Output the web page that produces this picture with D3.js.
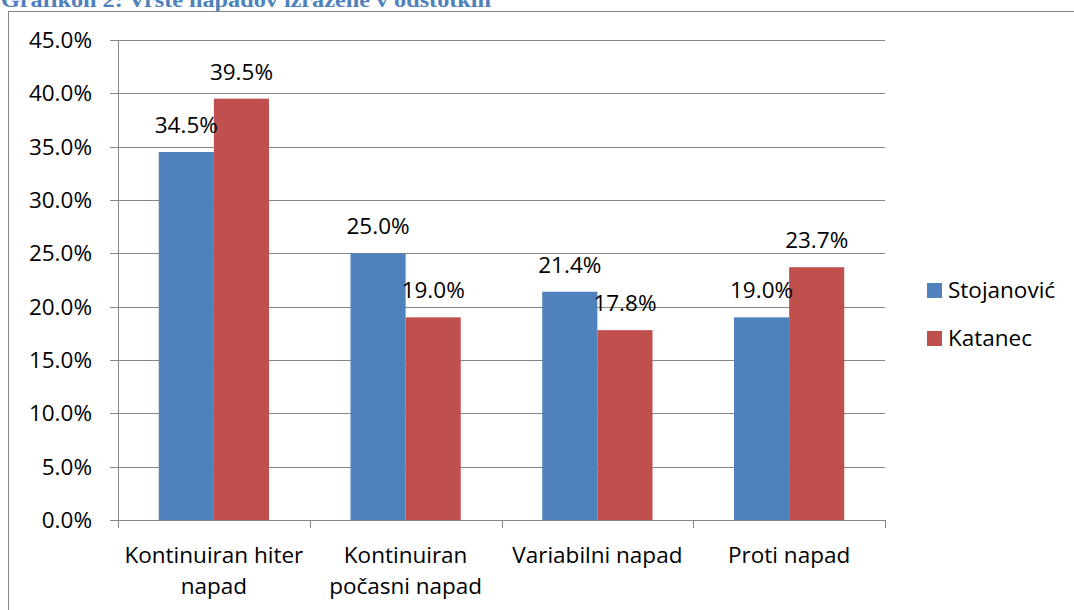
<!DOCTYPE html>
<html>
<head>
<meta charset="utf-8">
<script src="https://cdn.jsdelivr.net/npm/d3@7"></script>
<style>
  html, body { margin: 0; padding: 0; background: #fff; }
  svg { display: block; }
</style>
</head>
<body>
<svg id="chart" width="1074" height="610"></svg>
<script>
const title = "Grafikon 2: Vrste napadov izražene v odstotkih";
const categories = [["Kontinuiran hiter", "napad"], ["Kontinuiran", "počasni napad"], ["Variabilni napad"], ["Proti napad"]];
const seriesNames = ["Stojanović", "Katanec"];
const stojanovic = [34.5, 25.0, 21.4, 19.0];
const katanec = [39.5, 19.0, 17.8, 23.7];
const yTicks = [0, 5, 10, 15, 20, 25, 30, 35, 40, 45];
const colors = ["#4F81BD", "#C0504D"];

(function () {
const svg = d3.select("#chart");
const font = "'Open Sans', sans-serif";
const fs = 22.5;
const gridColor = "#868686";

// title (partially cut at top)
svg.append("text")
  .attr("x", 1).attr("y", 7)
  .attr("font-family", "'Liberation Serif', serif")
  .attr("font-weight", "bold")
  .attr("font-size", 20)
  .attr("fill", "#4F81BD")
  .attr("textLength", 490)
  .attr("lengthAdjust", "spacingAndGlyphs")
  .text(title);

// outer box
svg.append("rect")
  .attr("x", 8.5).attr("y", 11.5)
  .attr("width", 1100).attr("height", 700)
  .attr("fill", "none").attr("stroke", gridColor).attr("stroke-width", 1);

const pLeft = 118, pRight = 885, pTop = 40, pBottom = 520;
const y = d3.scaleLinear().domain([0, 45]).range([pBottom, pTop]);
const x = d3.scaleBand().domain(d3.range(categories.length)).range([pLeft, pRight]).padding(0);
const bw = x.bandwidth();
const outer = bw * 0.2125;
const barW = (bw - 2 * outer) / 2;

// gridlines + y ticks
const g = svg.append("g");
yTicks.forEach(t => {
  g.append("line")
    .attr("x1", pLeft - 8).attr("x2", pRight)
    .attr("y1", Math.round(y(t)) + 0.5).attr("y2", Math.round(y(t)) + 0.5)
    .attr("stroke", gridColor).attr("stroke-width", 1);
  g.append("text")
    .attr("x", 92).attr("y", y(t))
    .attr("dy", "0.35em")
    .attr("text-anchor", "end")
    .attr("font-family", font).attr("font-size", fs)
    .attr("fill", "#000")
    .text(t.toFixed(1) + "%");
});

// y axis line
g.append("line")
  .attr("x1", pLeft + 0.5).attr("x2", pLeft + 0.5)
  .attr("y1", pTop).attr("y2", pBottom + 8)
  .attr("stroke", gridColor);

// x ticks at band boundaries
d3.range(categories.length + 1).forEach(i => {
  const xx = Math.round(pLeft + i * bw) + 0.5;
  g.append("line")
    .attr("x1", xx).attr("x2", xx)
    .attr("y1", pBottom).attr("y2", pBottom + 8)
    .attr("stroke", gridColor);
});

// bars
const series = [stojanovic, katanec];
series.forEach((vals, si) => {
  vals.forEach((v, ci) => {
    const bx = x(ci) + outer + si * barW;
    svg.append("rect")
      .attr("x", bx).attr("y", y(v))
      .attr("width", barW).attr("height", y(0) - y(v))
      .attr("fill", colors[si]);
  });
});
// labels
series.forEach((vals, si) => {
  vals.forEach((v, ci) => {
    const bx = x(ci) + outer + si * barW;
    svg.append("text")
      .attr("x", bx + barW / 2).attr("y", y(v) - 19)
      .attr("text-anchor", "middle")
      .attr("font-family", font).attr("font-size", fs)
      .attr("fill", "#000")
      .text(v.toFixed(1) + "%");
  });
});

// x axis baseline on top
svg.append("line")
  .attr("x1", pLeft - 8).attr("x2", pRight)
  .attr("y1", pBottom + 0.5).attr("y2", pBottom + 0.5)
  .attr("stroke", gridColor);

// category labels
categories.forEach((lines, ci) => {
  lines.forEach((ln, li) => {
    svg.append("text")
      .attr("x", x(ci) + bw / 2).attr("y", 563 + li * 31)
      .attr("text-anchor", "middle")
      .attr("font-family", font).attr("font-size", fs)
      .attr("fill", "#000")
      .text(ln);
  });
});

// legend
seriesNames.forEach((name, i) => {
  const ly = 283 + i * 48;
  svg.append("rect")
    .attr("x", 927).attr("y", ly)
    .attr("width", 15).attr("height", 15)
    .attr("fill", colors[i]);
  svg.append("text")
    .attr("x", 948).attr("y", ly + 15)
    .attr("font-family", font).attr("font-size", fs)
    .attr("fill", "#000")
    .text(name);
});
})();
</script>
</body>
</html>
